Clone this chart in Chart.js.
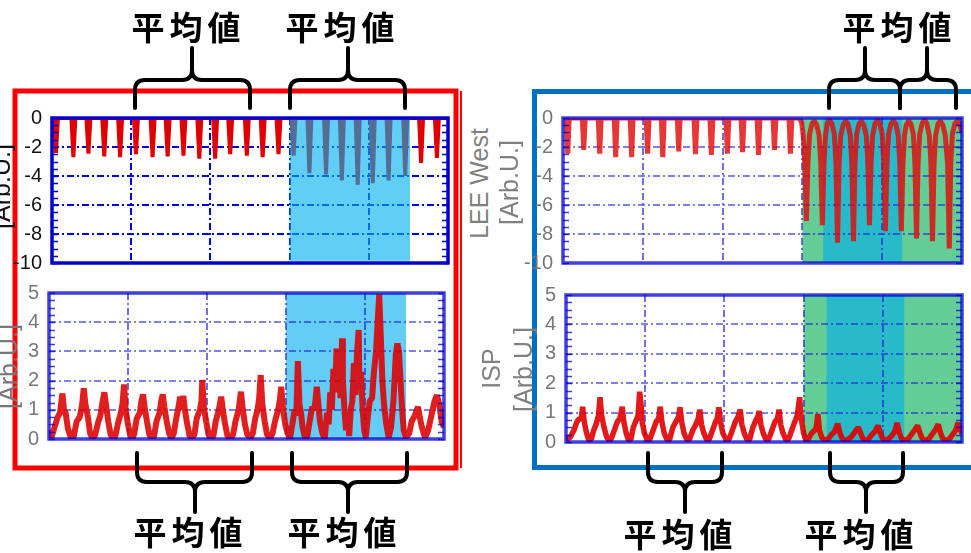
<!DOCTYPE html>
<html>
<head>
<meta charset="utf-8">
<script src="https://cdn.jsdelivr.net/npm/chart.js@4/dist/chart.umd.min.js"></script>
<style>
  html, body { margin: 0; padding: 0; background: #fff; }
  #stage { position: relative; width: 971px; height: 553px; overflow: hidden; background: #fff; }
  #frames, #braces { position: absolute; left: 0; top: 0; }
  #frames { z-index: 0; }
  canvas { position: absolute; z-index: 1; }
  .ytitle { position: absolute; z-index: 2; width: 160px; height: 25px; line-height: 25px; text-align: center;
            font-family: 'Liberation Sans', Arial, sans-serif; font-size: 25px; white-space: nowrap;
            transform: rotate(-90deg); transform-origin: 50% 50%; }
  #braces { z-index: 3; }
  .avg { position: absolute; z-index: 4; width: 160px; text-align: center; padding-left: 5px; box-sizing: border-box;
         font-family: 'Noto Sans CJK JP', sans-serif; font-weight: 700; font-size: 33px; line-height: 33px;
         letter-spacing: 5px; color: #000; white-space: nowrap; }
</style>
</head>
<body>
<div id="stage">
  <svg id="frames" width="971" height="553">
    <rect x="15" y="91" width="441" height="377" fill="none" stroke="#ff0000" stroke-width="5"/>
    <line x1="461" y1="91" x2="461" y2="468" stroke="#ff0000" stroke-width="2"/>
    <rect x="534.5" y="91.5" width="500" height="376" fill="none" stroke="#0070c0" stroke-width="5"/>
  </svg>

  <canvas id="leeLeft" width="455" height="170" style="left:0px;top:105px"></canvas>
  <canvas id="ispLeft" width="455" height="172" style="left:0px;top:280px"></canvas>
  <canvas id="leeRight" width="451" height="170" style="left:520px;top:105px"></canvas>
  <canvas id="ispRight" width="451" height="172" style="left:520px;top:282px"></canvas>

  <div class="ytitle" style="left:-79px;top:174px;color:#111">[Arb.U.]</div>
  <div class="ytitle" style="left:-72px;top:354px;color:#777">[Arb.U.]</div>
  <div class="ytitle" style="left:399px;top:171px;color:#808080">LEE West</div>
  <div class="ytitle" style="left:429px;top:170px;color:#808080">[Arb.U.]</div>
  <div class="ytitle" style="left:411px;top:356px;color:#808080">ISP</div>
  <div class="ytitle" style="left:443px;top:357px;color:#808080">[Arb.U.]</div>

  <svg id="braces" width="971" height="553"></svg>

  <div class="avg" style="left:106px;top:10px">平均値</div>
  <div class="avg" style="left:260px;top:10px">平均値</div>
  <div class="avg" style="left:817px;top:10px">平均値</div>
  <div class="avg" style="left:108px;top:515px">平均値</div>
  <div class="avg" style="left:262px;top:515px">平均値</div>
  <div class="avg" style="left:598px;top:517px">平均値</div>
  <div class="avg" style="left:779px;top:517px">平均値</div>
</div>

<script>
// ---------- values (time axis in arbitrary units 0..5) ----------

// LEE, left panel: sharp negative pulses (position, depth)
const leeLeftX = [0.05,0.27,0.46,0.66,0.86,1.06,1.27,1.46,1.66,1.86,2.06,2.25,2.46,2.66,2.86,
                  3.05,3.25,3.46,3.66,3.86,4.05,4.25,4.46,4.66,4.86];
const leeLeftDepth = [-2.4,-2.7,-2.45,-2.65,-2.7,-2.5,-2.7,-2.65,-2.6,-2.8,-2.8,-2.5,-2.6,-2.7,-2.5,
                      -2.6,-3.8,-3.9,-4.3,-4.6,-4.5,-4.3,-4.0,-3.1,-2.75];

// LEE West, right panel: quiet pulses before the event
const leeRightX = [0.06,0.26,0.46,0.66,0.86,1.06,1.25,1.45,1.66,1.86,2.06,2.25,2.45,2.65,2.85];
const leeRightDepth = [-2.45,-2.2,-2.45,-2.7,-2.7,-2.45,-2.7,-2.3,-2.5,-2.55,-2.45,-2.35,-2.55,-2.2,-2.45];

// LEE West during the event: deep dips separated by arches
const leeRightEvent = [
  [2.96,0],[2.99,-0.3],[3.01,-1.2],[3.03,-3.2],[3.05,-7.1],
  [3.07,-3.0],[3.09,-1.1],[3.12,-0.4],[3.15,-0.2],[3.18,-0.5],[3.21,-1.2],[3.23,-3.1],[3.25,-7.4],
  [3.27,-3.2],[3.29,-1.2],[3.31,-0.4],[3.34,-0.1],[3.37,-0.4],[3.40,-1.1],[3.42,-3.0],[3.44,-8.6],
  [3.46,-3.1],[3.48,-1.2],[3.51,-0.5],[3.54,-0.2],[3.57,-0.4],[3.60,-1.2],[3.62,-3.2],[3.64,-8.5],
  [3.66,-3.0],[3.68,-1.1],[3.71,-0.4],[3.74,-0.2],[3.77,-0.5],[3.80,-1.2],[3.82,-3.0],[3.84,-7.4],
  [3.86,-3.1],[3.88,-1.2],[3.91,-0.4],[3.94,-0.1],[3.97,-0.4],[4.00,-1.1],[4.02,-3.1],[4.04,-7.8],
  [4.06,-3.0],[4.08,-1.1],[4.11,-0.4],[4.14,-0.2],[4.17,-0.4],[4.20,-1.2],[4.22,-3.0],[4.24,-7.8],
  [4.26,-3.2],[4.28,-1.2],[4.30,-0.5],[4.33,-0.2],[4.36,-0.4],[4.39,-1.1],[4.41,-3.1],[4.43,-8.3],
  [4.45,-3.0],[4.47,-1.1],[4.50,-0.4],[4.53,-0.1],[4.56,-0.4],[4.59,-1.2],[4.61,-3.0],[4.63,-8.5],
  [4.65,-3.1],[4.67,-1.2],[4.70,-0.4],[4.73,-0.2],[4.76,-0.5],[4.79,-1.2],[4.82,-3.2],[4.84,-9.0],
  [4.86,-3.0],[4.88,-1.1],[4.91,-0.4],[4.94,-0.2],[4.97,-0.4],[5.0,-1.0]
];

// ISP, left panel
const ispLeft = [
  [0.0,0.3],[0.03,0.05],[0.07,0.4],[0.11,0.75],[0.14,0.9],[0.17,1.56],[0.19,1.0],[0.21,0.9],[0.24,0.35],[0.28,0.02],
  [0.31,0.05],[0.35,0.6],[0.39,0.75],[0.42,1.2],[0.44,1.74],[0.46,1.2],[0.49,0.8],[0.52,0.2],[0.55,0.02],
  [0.58,0.1],[0.62,0.55],[0.65,0.8],[0.68,1.3],[0.70,1.6],[0.72,1.2],[0.75,0.6],[0.78,0.15],[0.81,0.02],
  [0.84,0.1],[0.87,0.5],[0.91,0.9],[0.93,1.2],[0.95,1.87],[0.97,1.0],[1.0,0.5],[1.03,0.1],[1.06,0.02],
  [1.08,0.2],[1.11,0.7],[1.15,0.9],[1.17,1.3],[1.19,1.53],[1.21,1.1],[1.24,0.6],[1.27,0.15],[1.30,0.02],
  [1.33,0.1],[1.36,0.6],[1.40,0.9],[1.42,1.3],[1.44,1.53],[1.46,1.1],[1.49,0.6],[1.52,0.2],[1.55,0.02],
  [1.58,0.2],[1.61,0.7],[1.64,1.1],[1.66,1.45],[1.68,1.0],[1.70,1.48],[1.72,1.0],[1.75,0.5],[1.78,0.1],[1.81,0.02],
  [1.84,0.15],[1.87,0.7],[1.91,1.0],[1.93,1.3],[1.94,2.02],[1.96,1.1],[1.99,0.6],[2.02,0.15],[2.05,0.02],
  [2.08,0.1],[2.11,0.6],[2.15,1.0],[2.18,1.45],[2.20,1.0],[2.23,0.5],[2.26,0.1],[2.30,0.02],
  [2.33,0.15],[2.36,0.6],[2.40,1.0],[2.43,1.62],[2.45,1.1],[2.48,0.5],[2.51,0.15],[2.55,0.02],
  [2.58,0.2],[2.61,0.7],[2.64,1.0],[2.66,1.4],[2.68,2.19],[2.70,1.2],[2.73,0.6],[2.76,0.15],[2.80,0.02],
  [2.83,0.2],[2.86,0.6],[2.90,1.0],[2.92,1.3],[2.94,1.79],[2.96,1.1],[2.99,0.5],[3.02,0.2],[3.05,0.02],
  [3.08,0.5],[3.11,1.0],[3.13,0.8],[3.15,2.67],[3.17,1.2],[3.19,0.9],[3.21,0.4],[3.24,0.05],
  [3.27,0.1],[3.30,0.6],[3.33,1.1],[3.36,1.0],[3.39,1.79],[3.41,1.2],[3.43,0.6],[3.46,0.2],[3.49,0.02],
  [3.52,0.9],[3.54,0.5],[3.56,1.6],[3.58,1.0],[3.60,2.4],[3.62,1.6],[3.64,3.1],[3.65,2.0],[3.67,2.6],
  [3.69,1.4],[3.71,3.45],[3.72,2.0],[3.74,1.0],[3.76,0.3],[3.78,0.9],[3.80,0.1],[3.82,1.0],[3.84,1.3],
  [3.86,2.6],[3.88,1.5],[3.90,3.0],[3.92,3.73],[3.93,1.8],[3.95,2.3],[3.97,1.0],[3.99,0.3],[4.01,0.05],
  [4.03,0.6],[4.06,1.3],[4.09,1.4],[4.11,2.2],[4.14,3.0],[4.16,4.0],[4.18,4.95],[4.20,3.5],[4.22,2.0],
  [4.24,1.2],[4.27,0.5],[4.30,0.05],[4.33,0.4],[4.36,1.3],[4.39,2.9],[4.41,3.27],[4.43,3.0],[4.45,2.0],
  [4.47,1.0],[4.49,0.3],[4.52,0.05],
  [4.56,0.2],[4.59,0.6],[4.63,0.8],[4.67,1.1],[4.69,0.8],[4.72,0.4],[4.76,0.05],
  [4.80,0.3],[4.84,0.8],[4.88,1.3],[4.91,1.5],[4.94,1.2],[4.97,0.6],[5.0,0.4]
];

// ISP, right panel
const ispRight = [
  [0.0,0.1],[0.05,0.15],[0.1,0.4],[0.14,0.7],[0.17,0.8],[0.19,0.75],[0.21,1.2],[0.23,0.7],[0.26,0.3],[0.29,0.05],
  [0.32,0.1],[0.35,0.4],[0.38,0.6],[0.41,0.9],[0.43,1.52],[0.45,0.9],[0.48,0.5],[0.51,0.2],[0.54,0.05],
  [0.57,0.1],[0.61,0.4],[0.65,0.7],[0.68,0.8],[0.71,1.2],[0.73,0.7],[0.76,0.3],[0.79,0.05],
  [0.82,0.1],[0.85,0.5],[0.88,0.7],[0.91,0.9],[0.93,1.71],[0.95,1.2],[0.96,0.7],[0.99,0.3],[1.03,0.05],
  [1.06,0.1],[1.10,0.4],[1.14,0.7],[1.17,0.8],[1.19,1.2],[1.21,0.7],[1.24,0.3],[1.28,0.05],
  [1.31,0.1],[1.35,0.5],[1.39,0.7],[1.42,0.85],[1.44,1.18],[1.46,0.7],[1.49,0.3],[1.53,0.05],
  [1.56,0.1],[1.60,0.4],[1.64,0.6],[1.67,0.8],[1.69,1.1],[1.71,0.6],[1.74,0.3],[1.78,0.05],
  [1.81,0.1],[1.85,0.4],[1.89,0.7],[1.91,0.8],[1.93,1.18],[1.95,0.7],[1.98,0.3],[2.03,0.05],
  [2.06,0.1],[2.10,0.4],[2.14,0.7],[2.17,0.85],[2.20,1.1],[2.22,0.6],[2.25,0.3],[2.29,0.05],
  [2.32,0.1],[2.36,0.5],[2.39,0.7],[2.42,0.85],[2.44,1.05],[2.46,0.6],[2.49,0.3],[2.53,0.05],
  [2.56,0.1],[2.60,0.4],[2.64,0.7],[2.67,0.8],[2.69,1.1],[2.71,0.6],[2.74,0.3],[2.78,0.05],
  [2.81,0.1],[2.85,0.4],[2.89,0.7],[2.92,0.9],[2.95,1.52],[2.97,0.8],[3.0,0.3],[3.03,0.05],
  [3.06,0.1],[3.10,0.3],[3.14,0.4],[3.16,0.5],[3.18,0.95],[3.20,0.4],[3.23,0.15],[3.27,0.05],
  [3.31,0.1],[3.35,0.25],[3.39,0.35],[3.43,0.62],[3.46,0.3],[3.49,0.1],[3.53,0.05],
  [3.57,0.1],[3.61,0.2],[3.65,0.35],[3.69,0.5],[3.72,0.3],[3.75,0.1],[3.79,0.05],
  [3.82,0.1],[3.86,0.25],[3.90,0.35],[3.94,0.56],[3.97,0.3],[4.00,0.1],[4.04,0.05],
  [4.07,0.1],[4.11,0.2],[4.15,0.35],[4.18,0.65],[4.21,0.3],[4.24,0.1],[4.28,0.05],
  [4.32,0.1],[4.36,0.25],[4.40,0.4],[4.44,0.56],[4.47,0.3],[4.50,0.1],[4.54,0.05],
  [4.58,0.1],[4.62,0.25],[4.66,0.4],[4.70,0.6],[4.73,0.3],[4.76,0.1],[4.80,0.05],
  [4.84,0.1],[4.88,0.25],[4.92,0.4],[4.95,0.65],[4.98,0.4],[5.0,0.3]
];

// averaging windows (start, end) on the time axis
const leftWindow = [3.0, 4.52];
const rightEventWindow = [3.0, 5.0];
const rightInnerWindowTop = [3.26, 4.25];
const rightInnerWindowBottom = [3.29, 4.27];

// y tick values
const leeTicks = [0, -2, -4, -6, -8, -10];
const ispTicks = [0, 1, 2, 3, 4, 5];

// ---------- helpers ----------
const toXY = arr => arr.map(p => ({ x: p[0], y: p[1] }));

function pulseTrain(xs, depths, halfWidth, xStart, xEnd) {
  const pts = [{ x: xStart, y: 0 }];
  xs.forEach((x, i) => {
    pts.push({ x: x - halfWidth, y: 0 }, { x: x, y: depths[i] }, { x: x + halfWidth, y: 0 });
  });
  if (xEnd !== undefined) pts.push({ x: xEnd, y: 0 });
  return pts;
}

const TICK_FONT = { family: "'Liberation Sans', Arial, sans-serif", size: 20 };

function decor(cfg) {
  function shades(chart) {
    const { ctx, scales: { x, y } } = chart;
    for (const s of cfg.shades) {
      const x0 = x.getPixelForValue(s.x0), x1 = x.getPixelForValue(s.x1);
      const y0 = y.getPixelForValue(s.y0), y1 = y.getPixelForValue(s.y1);
      ctx.fillStyle = s.color;
      ctx.fillRect(Math.min(x0, x1), Math.min(y0, y1), Math.abs(x1 - x0), Math.abs(y1 - y0));
    }
  }
  return {
    id: 'panelDecor',
    beforeDatasetsDraw(chart) {
      const { ctx, chartArea: a, scales: { x, y } } = chart;
      ctx.save();
      if (!cfg.shadeOnTop) shades(chart);
      ctx.strokeStyle = cfg.gridColor;
      ctx.lineWidth = cfg.gridWidth;
      ctx.setLineDash([7, 3, 2, 3]);
      ctx.beginPath();
      for (const v of cfg.xGrid) {
        const px = Math.round(x.getPixelForValue(v));
        ctx.moveTo(px, a.top); ctx.lineTo(px, a.bottom);
      }
      for (const v of cfg.yGrid) {
        const py = Math.round(y.getPixelForValue(v));
        ctx.moveTo(a.left, py); ctx.lineTo(a.right, py);
      }
      ctx.stroke();
      ctx.restore();
    },
    afterDatasetsDraw(chart) {
      const { ctx, chartArea: a, scales: { y } } = chart;
      ctx.save();
      if (cfg.shadeOnTop) shades(chart);
      // minor ticks on the left and right edges
      ctx.strokeStyle = cfg.boxColor;
      ctx.lineWidth = 1.5;
      ctx.beginPath();
      for (let v = y.min; v <= y.max + 1e-9; v += cfg.minorStep) {
        const py = Math.round(y.getPixelForValue(v)) + 0.5;
        ctx.moveTo(a.left, py); ctx.lineTo(a.left + 6, py);
        ctx.moveTo(a.right, py); ctx.lineTo(a.right - 6, py);
      }
      ctx.stroke();
      ctx.lineWidth = 3.5;
      ctx.strokeRect(a.left, a.top, a.right - a.left, a.bottom - a.top);
      ctx.restore();
    }
  };
}

function makeChart(id, datasets, yOpts, axisWidth, padding, labelColor, decoCfg) {
  return new Chart(document.getElementById(id), {
    type: 'line',
    data: { datasets },
    options: {
      responsive: false,
      animation: false,
      events: [],
      layout: { padding },
      plugins: { legend: { display: false }, tooltip: { enabled: false } },
      elements: { point: { radius: 0 }, line: { tension: 0, borderJoinStyle: 'bevel', borderCapStyle: 'butt' } },
      scales: {
        x: { type: 'linear', min: 0, max: 5, display: false },
        y: {
          type: 'linear', min: yOpts.min, max: yOpts.max,
          afterBuildTicks: s => { s.ticks = yOpts.ticks.map(v => ({ value: v })); },
          afterFit: s => { s.width = axisWidth; s.paddingTop = 0; s.paddingBottom = 0; },
          grid: { display: false, drawTicks: false },
          border: { display: false },
          ticks: { color: labelColor, font: TICK_FONT, padding: 10 }
        }
      }
    },
    plugins: [decor(decoCfg)]
  });
}

// ---------- left panel ----------
makeChart('leeLeft',
  [{ data: pulseTrain(leeLeftX, leeLeftDepth, 0.025, 0, 5), borderColor: '#e00000', borderWidth: 4 }],
  { min: -10, max: 0, ticks: leeTicks }, 52, { top: 13, right: 7, bottom: 12, left: 0 }, '#111',
  { shadeOnTop: true,
    shades: [{ x0: leftWindow[0], x1: leftWindow[1], y0: 0, y1: -9.85, color: 'rgba(0,176,240,0.62)' }],
    gridColor: '#0000dd', gridWidth: 2, xGrid: [1, 2, 3, 4], yGrid: [-2, -4, -6, -8],
    boxColor: '#0000cc', minorStep: 0.5 });

makeChart('ispLeft',
  [{ data: toXY(ispLeft), borderColor: 'rgba(222,0,0,0.88)', borderWidth: 6 }],
  { min: 0, max: 5, ticks: ispTicks }, 49, { top: 13, right: 11, bottom: 13, left: 0 }, '#777',
  { shadeOnTop: false,
    shades: [{ x0: leftWindow[0], x1: leftWindow[1], y0: 0, y1: 5, color: '#63cdf5' }],
    gridColor: 'rgba(30,30,215,0.75)', gridWidth: 1.7, xGrid: [1, 2, 3, 4], yGrid: [1, 2, 3, 4],
    boxColor: 'rgba(0,0,210,0.75)', minorStep: 0.25 });

// ---------- right panel ----------
makeChart('leeRight',
  [{ data: pulseTrain(leeRightX, leeRightDepth, 0.018, 0).concat(toXY(leeRightEvent)),
     borderColor: 'rgba(224,10,10,0.82)', borderWidth: 5 }],
  { min: -10, max: 0, ticks: leeTicks }, 43, { top: 13, right: 9, bottom: 12, left: 0 }, '#777',
  { shadeOnTop: false,
    shades: [
      { x0: rightEventWindow[0], x1: rightEventWindow[1], y0: 0, y1: -10, color: '#64cd96' },
      { x0: rightInnerWindowTop[0], x1: rightInnerWindowTop[1], y0: 0, y1: -9.9, color: '#28bac8' }
    ],
    gridColor: 'rgba(30,30,215,0.75)', gridWidth: 1.7, xGrid: [1, 2, 3, 4], yGrid: [-2, -4, -6, -8],
    boxColor: 'rgba(0,0,210,0.75)', minorStep: 0.5 });

makeChart('ispRight',
  [{ data: toXY(ispRight), borderColor: 'rgba(224,0,0,0.9)', borderWidth: 5.5 }],
  { min: 0, max: 5, ticks: ispTicks }, 46, { top: 13, right: 9, bottom: 12, left: 0 }, '#777',
  { shadeOnTop: false,
    shades: [
      { x0: rightEventWindow[0], x1: rightEventWindow[1], y0: 0, y1: 5, color: '#64cd96' },
      { x0: rightInnerWindowBottom[0], x1: rightInnerWindowBottom[1], y0: 0, y1: 5, color: '#28bac8' }
    ],
    gridColor: 'rgba(30,30,215,0.75)', gridWidth: 1.7, xGrid: [1, 2, 3, 4], yGrid: [1, 2, 3, 4],
    boxColor: 'rgba(0,0,210,0.75)', minorStep: 0.25 });

// ---------- curly braces marking the averaging windows ----------
function bracePath(x1, x2, xc, yLeg, yBar, yTip) {
  const r = 10, d = yLeg > yBar ? 1 : -1;
  return `M${x1},${yLeg} L${x1},${yBar + d * r} Q${x1},${yBar} ${x1 + r},${yBar} L${xc - r},${yBar} ` +
         `Q${xc},${yBar} ${xc},${yBar - d * r} L${xc},${yTip} ` +
         `M${x2},${yLeg} L${x2},${yBar + d * r} Q${x2},${yBar} ${x2 - r},${yBar} L${xc + r},${yBar} ` +
         `Q${xc},${yBar} ${xc},${yBar - d * r}`;
}
const braces = [
  [135, 250, 192, 108, 80, 48], [290, 405, 348, 108, 80, 48],
  [829, 900, 865, 108, 80, 48], [900, 956, 927, 108, 80, 48],
  [137, 252, 195, 453, 482, 512], [292, 407, 348, 453, 482, 512],
  [648, 722, 685, 453, 482, 512], [830, 903, 866, 453, 482, 512]
];
const svg = document.getElementById('braces');
svg.innerHTML = braces.map(b =>
  `<path d="${bracePath(...b)}" fill="none" stroke="#000" stroke-width="4" stroke-linecap="round" stroke-linejoin="round"/>`
).join('');
</script>
</body>
</html>
